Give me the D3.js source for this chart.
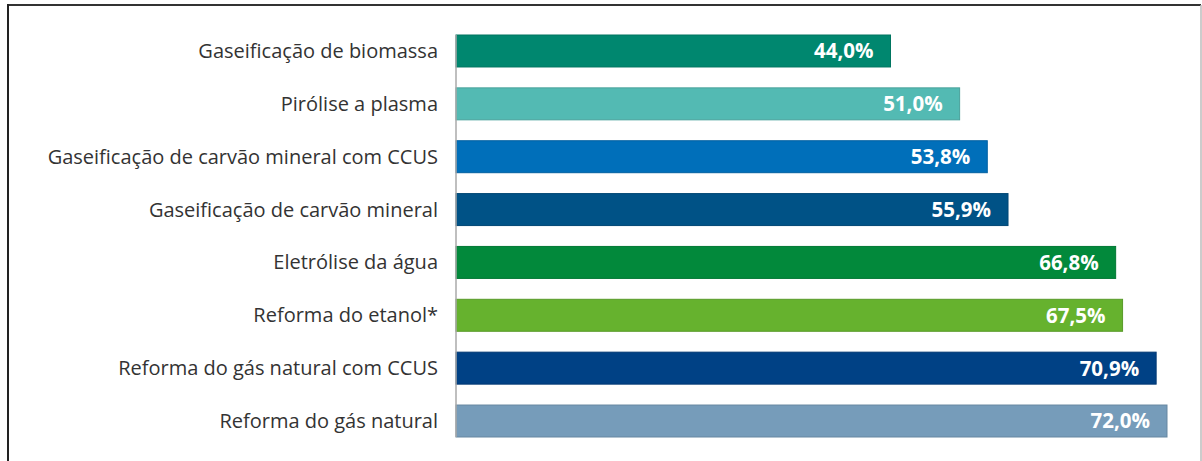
<!DOCTYPE html>
<html>
<head>
<meta charset="utf-8">
<script src="https://cdn.jsdelivr.net/npm/d3@7"></script>
<style>
  html, body { margin: 0; padding: 0; background: #fff; }
  svg { display: block; }
</style>
</head>
<body>
<div id="chart"></div>
<script>
// ── Data ───────────────────────────────────────────────────────────────
const categories = [
  "Gaseificação de biomassa",
  "Pirólise a plasma",
  "Gaseificação de carvão mineral com CCUS",
  "Gaseificação de carvão mineral",
  "Eletrólise da água",
  "Reforma do etanol*",
  "Reforma do gás natural com CCUS",
  "Reforma do gás natural"
];
const values = [44.0, 51.0, 53.8, 55.9, 66.8, 67.5, 70.9, 72.0];
const barColors = [
  "#00876f", "#53bab3", "#006fba", "#005286",
  "#02893b", "#66b22e", "#004185", "#769cba"
];

// ── Layout ─────────────────────────────────────────────────────────────
const W = 1202, H = 461;
const axisX = 456;
const plotTop = 35, plotBottom = 437;

const svg = d3.select("#chart").append("svg")
  .attr("width", W)
  .attr("height", H);

// frame
svg.append("line").attr("x1", 7).attr("y1", 5).attr("x2", 1201).attr("y2", 5)
  .attr("stroke", "#333").attr("stroke-width", 2);
svg.append("line").attr("x1", 8).attr("y1", 4).attr("x2", 8).attr("y2", H)
  .attr("stroke", "#222").attr("stroke-width", 2);
svg.append("line").attr("x1", 1201).attr("y1", 5).attr("x2", 1201).attr("y2", H)
  .attr("stroke", "#bbb").attr("stroke-width", 1.5);

const x = d3.scaleLinear().domain([0, 72]).range([axisX, 1167]);
const y = d3.scaleBand().domain(categories).range([plotTop, plotBottom])
  .paddingInner(0.395).paddingOuter(0);

// bars
svg.append("g").selectAll("rect")
  .data(values)
  .join("rect")
    .attr("x", x(0))
    .attr("y", (d, i) => y(categories[i]))
    .attr("width", d => x(d) - x(0))
    .attr("height", y.bandwidth())
    .attr("fill", (d, i) => barColors[i])
    .attr("stroke", (d, i) => d3.color(barColors[i]).darker(0.4))
    .attr("stroke-width", 1);

// axis line
svg.append("line")
  .attr("x1", axisX).attr("x2", axisX)
  .attr("y1", plotTop).attr("y2", plotBottom)
  .attr("stroke", "#aaa").attr("stroke-width", 1.5);

// category labels
svg.append("g").selectAll("text")
  .data(categories)
  .join("text")
    .attr("x", axisX - 18)
    .attr("y", d => y(d) + y.bandwidth() / 2)
    .attr("dy", "0.35em")
    .attr("text-anchor", "end")
    .attr("fill", "#333")
    .attr("font-family", "'Open Sans', sans-serif")
    .attr("font-size", "20px")
    .text(d => d);

// value labels
const fmt = v => d3.format(".1f")(v).replace(".", ",") + "%";
svg.append("g").selectAll("text")
  .data(values)
  .join("text")
    .attr("x", d => x(d) - 17)
    .attr("y", (d, i) => y(categories[i]) + y.bandwidth() / 2)
    .attr("dy", "0.36em")
    .attr("text-anchor", "end")
    .attr("fill", "#fff")
    .attr("font-family", "'Open Sans', sans-serif")
    .attr("font-weight", "bold")
    .attr("font-size", "20.5px")
    .text(d => fmt(d));
</script>
</body>
</html>
